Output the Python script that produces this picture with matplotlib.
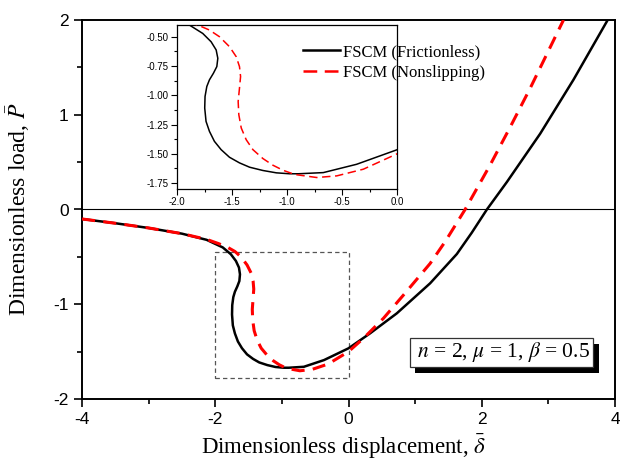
import matplotlib
matplotlib.use("Agg")
import matplotlib.pyplot as plt
import matplotlib.patheffects as pe
from matplotlib.ticker import MultipleLocator, FormatStrFormatter

plt.rcParams['axes.unicode_minus'] = False
plt.rcParams['mathtext.fontset'] = 'stix'
plt.rcParams['font.family'] = ['Liberation Sans', 'DejaVu Sans']

# ---- data ----
fric_x = [-4.0, -3.5, -3.0, -2.5, -2.13, -1.888, -1.766, -1.690, -1.644, -1.629, -1.638,
          -1.669, -1.705, -1.729, -1.745, -1.748, -1.736, -1.705, -1.660, -1.599, -1.523,
          -1.432, -1.340, -1.219, -1.097, -0.976, -0.897, -0.67, -0.367, 0.0, 0.324, 0.725,
          1.225, 1.626, 1.85, 2.077, 2.377, 2.877, 3.377, 3.89]
fric_y = [-0.10, -0.145, -0.195, -0.255, -0.32, -0.40, -0.472, -0.543, -0.613, -0.684, -0.755,
          -0.812, -0.868, -0.925, -1.010, -1.109, -1.223, -1.308, -1.393, -1.464, -1.529,
          -1.577, -1.614, -1.642, -1.662, -1.670, -1.670, -1.66, -1.589, -1.465, -1.307, -1.096,
          -0.779, -0.47, -0.245, 0.0, 0.29, 0.80, 1.37, 2.0]

nons_x = [-4.0, -3.5, -3.0, -2.5, -2.13, -1.95, -1.812, -1.705, -1.614, -1.523, -1.462,
          -1.432, -1.422, -1.432, -1.444, -1.438, -1.416, -1.371, -1.310, -1.219, -1.128,
          -1.036, -0.930, -0.73, -0.548, -0.306, 0.0, 0.224, 0.525, 0.826, 1.225, 1.45,
          1.75, 2.126, 2.427, 2.727, 2.977, 3.227]
nons_y = [-0.10, -0.145, -0.195, -0.255, -0.315, -0.36, -0.40, -0.443, -0.500, -0.585, -0.670,
          -0.755, -0.840, -0.939, -1.053, -1.166, -1.279, -1.379, -1.464, -1.540, -1.597,
          -1.640, -1.676, -1.702, -1.688, -1.631, -1.50, -1.36, -1.148, -0.902, -0.57, -0.34,
          0.0, 0.47, 0.87, 1.28, 1.64, 2.0]

labels = ['FSCM (Frictionless)', 'FSCM (Nonslipping)']
zoom_box = [-2.0, 0.0, -1.78, -0.445]
params_text = r' $n$ = 2, $\mu$ = 1, $\beta$ = 0.5 '

serif = ['Liberation Serif', 'DejaVu Serif']

fig = plt.figure(figsize=(6.2, 4.61), dpi=100)
ax = fig.add_axes([82/620, 1-399/461, 533/620, 379/461])

ax.plot(fric_x, fric_y, color='black', lw=1.8, solid_joinstyle='round', zorder=3)
ax.plot(nons_x, nons_y, color='#ff0000', lw=2.2, dashes=(4.3, 2.7), zorder=4)
ax.axhline(0, color='black', lw=0.8, zorder=2)

bx0, bx1, by0, by1 = zoom_box
ax.plot([bx0, bx1, bx1, bx0, bx0], [by0, by0, by1, by1, by0], color='#555555',
        lw=0.9, dashes=(3.5, 2.5), zorder=2)

ax.set_xlim(-4, 4)
ax.set_ylim(-2, 2)
ax.xaxis.set_major_locator(MultipleLocator(2))
ax.xaxis.set_minor_locator(MultipleLocator(1))
ax.yaxis.set_major_locator(MultipleLocator(1))
ax.yaxis.set_minor_locator(MultipleLocator(0.5))
ax.tick_params(which='both', direction='out', top=False, right=False, labelsize=12.5, width=1.2)
ax.tick_params(which='major', length=6)
ax.tick_params(which='minor', length=3.5)
for s in ax.spines.values():
    s.set_linewidth(1.4)

ax.set_xlabel(r'Dimensionless displacement, $\bar{\delta}$', family=serif, fontsize=16.5)
ax.set_ylabel(r'Dimensionless load, $\bar{P}$', family=serif, fontsize=17)
ax.xaxis.set_label_coords(0.49, -0.09)
ax.yaxis.set_label_coords(-0.093, 0.5)

# parameter box with drop shadow
t = ax.text(2.29, -1.509, params_text, ha='center', va='center', family=serif, fontsize=15.5,
            color='black', bbox=dict(boxstyle='square,pad=0.1', fc='white', ec='#333333', lw=0.9),
            zorder=6)
t.get_bbox_patch().set_path_effects([
    pe.SimplePatchShadow(offset=(4.3, -4.3), shadow_rgbFace='black', alpha=1.0),
    pe.Normal()])

# inset
axin = fig.add_axes([177/620, 1-189/461, 220/620, 164/461])
axin.patch.set_alpha(0)
axin.plot(fric_x, fric_y, color='black', lw=1.1, zorder=3)
axin.plot(nons_x, nons_y, color='#ff0000', lw=1.1, dashes=(5.5, 3), zorder=3)
axin.set_xlim(-2, 0)
axin.set_ylim(-1.8, -0.4)
axin.xaxis.set_major_locator(MultipleLocator(0.5))
axin.xaxis.set_minor_locator(MultipleLocator(0.25))
axin.yaxis.set_major_locator(MultipleLocator(0.25))
axin.yaxis.set_minor_locator(MultipleLocator(0.125))
axin.xaxis.set_major_formatter(FormatStrFormatter('%.1f'))
axin.yaxis.set_major_formatter(FormatStrFormatter('%.2f'))
axin.tick_params(which='both', direction='out', top=False, right=False, labelsize=7, width=0.8, pad=2)
axin.tick_params(which='major', length=4)
axin.tick_params(which='minor', length=2)
for s in axin.spines.values():
    s.set_linewidth(0.9)

leg = axin.legend(labels, loc='upper left', bbox_to_anchor=(303/620, 1-44/461),
                  bbox_transform=fig.transFigure, frameon=False, prop={'family': serif, 'size': 12},
                  handlelength=2.2, handletextpad=0.2, borderpad=0, borderaxespad=0, labelspacing=0.3)
leg.set_zorder(2)
for h in leg.get_lines():
    h.set_linewidth(1.8)

fig.savefig('out.png', dpi=100)
